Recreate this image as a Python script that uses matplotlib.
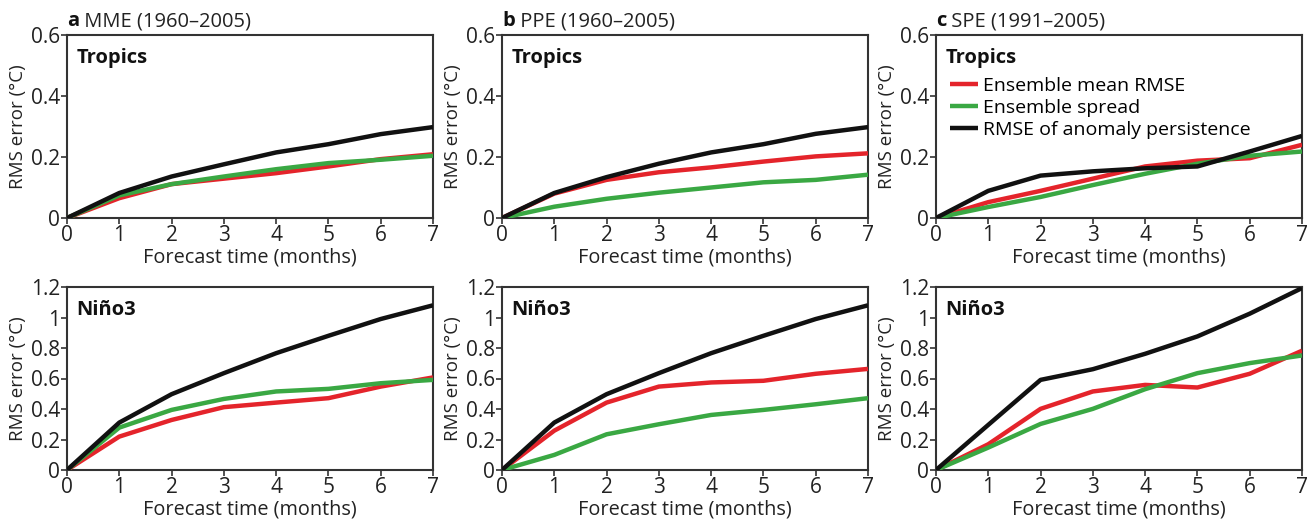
import matplotlib
matplotlib.use("Agg")
from matplotlib import pyplot as plt

plt.rcParams['font.family'] = ['Open Sans', 'DejaVu Sans']

months = [0, 1, 2, 3, 4, 5, 6, 7]

# Tropics (top row)
mme_trop_rmse = [0, 0.065, 0.111, 0.129, 0.147, 0.169, 0.193, 0.209]
mme_trop_spread = [0, 0.074, 0.111, 0.136, 0.160, 0.180, 0.191, 0.204]
mme_trop_persist = [0, 0.082, 0.136, 0.176, 0.215, 0.242, 0.275, 0.298]

ppe_trop_rmse = [0, 0.080, 0.125, 0.150, 0.166, 0.185, 0.202, 0.212]
ppe_trop_spread = [0, 0.037, 0.063, 0.083, 0.100, 0.117, 0.125, 0.142]
ppe_trop_persist = [0, 0.082, 0.134, 0.178, 0.215, 0.242, 0.276, 0.298]

spe_trop_rmse = [0, 0.052, 0.089, 0.129, 0.169, 0.188, 0.196, 0.240]
spe_trop_spread = [0, 0.036, 0.069, 0.108, 0.145, 0.178, 0.204, 0.218]
spe_trop_persist = [0, 0.089, 0.139, 0.153, 0.163, 0.169, 0.218, 0.269]

# Nino3 (bottom row)
mme_nino_rmse = [0, 0.219, 0.328, 0.412, 0.442, 0.471, 0.547, 0.607]
mme_nino_spread = [0, 0.278, 0.394, 0.466, 0.515, 0.532, 0.569, 0.591]
mme_nino_persist = [0, 0.311, 0.497, 0.635, 0.766, 0.880, 0.990, 1.080]

ppe_nino_rmse = [0, 0.258, 0.442, 0.547, 0.574, 0.585, 0.631, 0.663]
ppe_nino_spread = [0, 0.099, 0.234, 0.300, 0.361, 0.394, 0.431, 0.471]
ppe_nino_persist = [0, 0.311, 0.497, 0.635, 0.766, 0.880, 0.990, 1.080]

spe_nino_rmse = [0, 0.169, 0.401, 0.515, 0.558, 0.541, 0.631, 0.782]
spe_nino_spread = [0, 0.147, 0.302, 0.401, 0.530, 0.635, 0.701, 0.751]
spe_nino_persist = [0, 0.296, 0.591, 0.661, 0.762, 0.876, 1.025, 1.193]

letters = ['a', 'b', 'c']
titles = [' MME (1960\u20132005)', ' PPE (1960\u20132005)', ' SPE (1991\u20132005)']
series_labels = ['Ensemble mean RMSE', 'Ensemble spread', 'RMSE of anomaly persistence']
colors = ['#e4242b', '#3aa843', '#111111']

top = [(mme_trop_rmse, mme_trop_spread, mme_trop_persist),
       (ppe_trop_rmse, ppe_trop_spread, ppe_trop_persist),
       (spe_trop_rmse, spe_trop_spread, spe_trop_persist)]
bottom = [(mme_nino_rmse, mme_nino_spread, mme_nino_persist),
          (ppe_nino_rmse, ppe_nino_spread, ppe_nino_persist),
          (spe_nino_rmse, spe_nino_spread, spe_nino_persist)]

fig = plt.figure(figsize=(13.13, 5.22), dpi=100)
lefts = [67 / 1313, 502 / 1313, 936 / 1313]
w = 366 / 1313
h = 183 / 522
bottoms = [1 - 218 / 522, 1 - 470 / 522]


def style(ax, ymax, yticks, yticklabels, name):
    ax.set_xlim(0, 7)
    ax.set_ylim(0, ymax)
    ax.set_xticks(months)
    ax.set_yticks(yticks)
    ax.set_yticklabels(yticklabels)
    ax.tick_params(direction='out', length=4, width=1.2, labelsize=15, pad=1,
                   color='#333333', labelcolor='#222222')
    for s in ax.spines.values():
        s.set_linewidth(1.5)
        s.set_color('#333333')
    ax.set_xlabel('Forecast time (months)', fontsize=14.3, labelpad=1, color='#222222')
    ax.set_ylabel('RMS error (\u00b0C)', fontsize=13.5, labelpad=3, color='#222222')
    ax.text(0.025, 0.93, name, transform=ax.transAxes, fontsize=14.5,
            fontweight='bold', va='top', ha='left', color='#111111')


for i in range(3):
    ax = fig.add_axes([lefts[i], bottoms[0], w, h])
    for j in range(3):
        ax.plot(months, top[i][j], color=colors[j], lw=3.2, label=series_labels[j],
                solid_capstyle='butt', zorder=3)
    style(ax, 0.6, [0, 0.2, 0.4, 0.6], ['0', '0.2', '0.4', '0.6'], 'Tropics')
    t = ax.text(0, 1.02, letters[i], transform=ax.transAxes, fontsize=14.5,
                fontweight='bold', ha='left', va='bottom', color='#111111')
    ax.annotate(titles[i], xy=(1, 0), xycoords=t, fontsize=14.5, ha='left',
                va='bottom', color='#222222')
    if i == 2:
        ax.legend(loc='upper left', bbox_to_anchor=(0.0, 0.845), frameon=False,
                  fontsize=14, handlelength=1.45, handletextpad=0.25,
                  labelspacing=0.2, borderaxespad=0.3)

    ax2 = fig.add_axes([lefts[i], bottoms[1], w, h])
    for j in range(3):
        ax2.plot(months, bottom[i][j], color=colors[j], lw=3.2, solid_capstyle='butt', zorder=3)
    style(ax2, 1.2, [0, 0.2, 0.4, 0.6, 0.8, 1.0, 1.2],
          ['0', '0.2', '0.4', '0.6', '0.8', '1', '1.2'], 'Ni\u00f1o3')

fig.savefig('out.png', dpi=100)
